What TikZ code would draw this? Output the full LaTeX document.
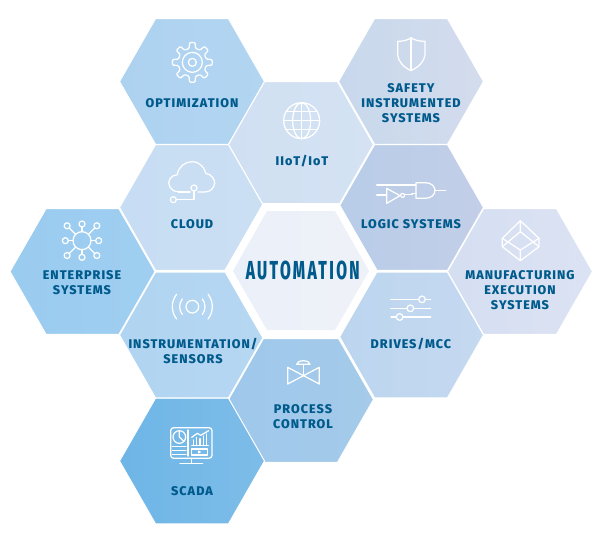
\documentclass[tikz,border=0pt]{standalone}
\usepackage{fontspec}
\newfontfamily\lab[LetterSpace=8,UprightFont=*,BoldFont=* ExtraBold]{Fira Sans}
\newfontfamily\tit[LetterSpace=9,FakeStretch=0.6,UprightFont=*,BoldFont=* ExtraBold]{Fira Sans}
\definecolor{ink}{HTML}{005B8C}
\newcommand{\hexcell}[5]{\shadedraw[hexcellstyle,left color=#4,right color=#5,shift={(#2,#3)}] (-72.5,0)--(-36.5,-62.8)--(36.5,-62.8)--(72.5,0)--(36.5,62.8)--(-36.5,62.8)--cycle;}
\tikzset{
  hexcellstyle/.style={draw=white,line width=1pt,line join=miter},
  lbl/.style={font=\lab\bfseries\fontsize{12.6}{14.8}\selectfont,text=ink,align=center,inner sep=0pt},
  ico/.style={draw=white,line width=1.25pt,line join=round,line cap=round,fill=none},
  zoomat/.style 2 args={shift={(#1,#2)},x=.33333pt,y=-.33333pt}
}
\begin{document}
\begin{tikzpicture}[x=1pt,y=-1pt]
\useasboundingbox (0,0) rectangle (600,533);
\definecolor{c1a}{HTML}{ADD2F0}\definecolor{c1b}{HTML}{B2D5F1}
\definecolor{c2a}{HTML}{D0E0F2}\definecolor{c2b}{HTML}{D4E2F3}
\definecolor{c3a}{HTML}{C8D8EC}\definecolor{c3b}{HTML}{D3DCED}
\definecolor{c4a}{HTML}{B8CDE8}\definecolor{c4b}{HTML}{C3CEE8}
\definecolor{c5a}{HTML}{D5DFF2}\definecolor{c5b}{HTML}{DBE2F3}
\definecolor{c6a}{HTML}{BCD5EF}\definecolor{c6b}{HTML}{C5D9F0}
\definecolor{c7a}{HTML}{9EC8EB}\definecolor{c7b}{HTML}{A5CAEA}
\definecolor{c8a}{HTML}{6EB6E7}\definecolor{c8b}{HTML}{7DBCE8}
\definecolor{c9a}{HTML}{B0D4F1}\definecolor{c9b}{HTML}{B6D7F2}
\definecolor{c10a}{HTML}{9ACCF0}\definecolor{c10b}{HTML}{9FCEF0}
\definecolor{c11a}{HTML}{C7DDF3}\definecolor{c11b}{HTML}{CBDFF3}
\definecolor{c12a}{HTML}{EAF0F9}\definecolor{c12b}{HTML}{EFF1F8}
\hexcell{opt}{192}{81.5}{c1a}{c1b}
\hexcell{iot}{301}{144.5}{c2a}{c2b}
\hexcell{saf}{411}{81.5}{c3a}{c3b}
\hexcell{log}{411}{207.5}{c4a}{c4b}
\hexcell{mes}{520}{271.5}{c5a}{c5b}
\hexcell{drv}{411}{335}{c6a}{c6b}
\hexcell{prc}{301}{399.5}{c7a}{c7b}
\hexcell{sca}{192}{461}{c8a}{c8b}
\hexcell{ins}{192}{335}{c9a}{c9b}
\hexcell{ent}{82.5}{271.5}{c10a}{c10b}
\hexcell{cld}{192}{207.5}{c11a}{c11b}
% centre
\fill[white] (224,271)--(263,203)--(339,203)--(378,271)--(339,339)--(263,339)--cycle;
\shade[left color=c12a,right color=c12b] (233,271)--(267,211)--(335,211)--(369,271)--(335,330)--(267,330)--cycle;
% gear
\begin{scope}[zoomat={110}{10}]
 \begin{scope}[shift={(247,157)}]
 \draw[ico,rounded corners=1pt] (-13:43) \foreach \a in {0,45,...,315}{ -- (\a-13:43) -- (\a-8:60) -- (\a+8:60) -- (\a+13:43)} -- cycle;
 \draw[ico] (0,0) circle (30) (0,0) circle (12);
 \end{scope}
 % globe
 \begin{scope}[shift={(575,332)}]
 \draw[ico] (0,0) circle (54);
 \draw[ico] (0,0) ellipse (27 and 54);
 \draw[ico] (0,-54)--(0,54) (-54,0)--(54,0) (-47,-27)--(47,-27) (-47,27)--(47,27);
 \end{scope}
 % cloud
 \draw[ico] (205,545) .. controls (180,545) and (172,520) .. (178,510)
   .. controls (185,497) and (195,495) .. (202,494)
   .. controls (205,470) and (225,455) .. (247,455)
   .. controls (270,455) and (285,475) .. (287,490)
   .. controls (305,492) and (315,510) .. (314,520)
   .. controls (312,535) and (300,546) .. (285,546) -- (264,546);
 \draw[ico] (252,534) circle (9);
 \draw[ico] (190,569) circle (9);
 \draw[ico] (252,543) -- (252,569) -- (199,569);
 \draw[ico] (240,546) -- (205,546);
\end{scope}
% shield
\begin{scope}[zoomat={330}{10}]
 \draw[ico] (203,94) .. controls (220,94) and (235,90) .. (243,83) .. controls (251,90) and (268,94) .. (285,94) -- (285,135) .. controls (283,155) and (265,172) .. (243,182) .. controls (221,172) and (205,155) .. (203,135) -- cycle;
 \draw[ico] (243,83) -- (243,182);
\end{scope}
\begin{scope}[zoomat={330}{170}]
 % logic
 \draw[ico] (140,45)--(258,45) (140,75)--(170,75) (315,61)--(347,61);
 \draw[ico] (170,55)--(210,77)--(170,100)--cycle;
 \draw[ico] (218,76) circle (6);
 \draw[ico] (224,73)--(246,73)--(246,70)--(258,70);
 \draw[ico] (258,38)--(285,38) .. controls (305,38) and (315,50) .. (315,61) .. controls (315,73) and (305,85) .. (285,85) -- (258,85) -- cycle;
 % cube
 \draw[ico] (571,152)--(627,205)--(627,230)--(571,272)--(517,230)--(517,205)--cycle;
 \draw[ico] (571,152)--(571,185) (571,185)--(517,230) (571,185)--(627,230) (517,205)--(571,240) (627,205)--(571,240) (571,240)--(571,272);
 % sliders
 \draw[ico] (183,388)--(266,388) (286,388)--(302,388) (183,415)--(231,415) (251,415)--(302,415) (183,441)--(199,441) (219,441)--(302,441);
 \draw[ico] (276,388) circle (10) (241,415) circle (10) (209,441) circle (10);
\end{scope}
\begin{scope}[zoomat={0}{200}]
 % network
 \begin{scope}[shift={(246,122)}]
 \draw[ico] (0,0) circle (27);
 \foreach \a/\r in {0/50,45/63,90/50,135/63,180/50,225/63,270/50,315/63}{
   \draw[ico] (\a:27)--(\a:\r-9);
   \draw[ico] (\a:\r) circle (9);
 }
 \end{scope}
 % sensor
 \begin{scope}[shift={(577,320)}]
 \draw[ico] (0,0) circle (19);
 \foreach \r in {38,60}{
   \draw[ico] (-38:\r) arc (-38:38:\r);
   \draw[ico] (218:\r) arc (218:142:\r);
 }
 \end{scope}
\end{scope}
\begin{scope}[zoomat={110}{330}]
 % valve
 \draw[ico] (533,112)--(628,162)--(628,112)--(533,162)--cycle;
 \draw[ico] (580,137)--(580,103);
 \draw[ico] (560,103) .. controls (562,88) and (598,88) .. (600,103) -- cycle;
 % scada
 \draw[ico,rounded corners=3pt] (182,293) rectangle (306,385);
 \draw[ico] (245,385)--(245,400) (210,401)--(278,401);
 \draw[ico] (234,300)--(234,378);
 \draw[ico] (208,321) circle (19);
 \draw[ico] (208,321)--(208,302) (208,321)--(222,334);
 \draw[ico] (187,350)--(228,350) (187,362)--(228,362) (187,374)--(228,374);
 \draw[ico] (245,346)--(295,346);
 \foreach \x/\t in {250/330,260/322,270/326,280/318,290/312}{ \draw[ico] (\x,346)--(\x,\t); }
 \draw[ico] (245,322)--(262,310)--(272,316)--(296,302);
 \draw[ico] (245,357) rectangle (293,375);
 \fill[white] (264,361)--(274,366)--(264,371)--cycle;
\end{scope}
% labels
\node[lbl] (toptim) at (192,102.7) {OPTIMIZATION};
\node[lbl] (tiot) at (302,161) {IIoT/IoT};
\node[lbl] (tsafe) at (411,103) {SAFETY\\INSTRUMENTED\\SYSTEMS};
\node[lbl] (tlogic) at (411,223.7) {LOGIC SYSTEMS};
\node[lbl] (tmes) at (520,290) {MANUFACTURING\\EXECUTION\\SYSTEMS};
\node[lbl] (tdrv) at (411,343.7) {DRIVES/MCC};
\node[lbl] (tent) at (82,282.5) {ENTERPRISE\\SYSTEMS};
\node[lbl] (tcld) at (192,223.7) {CLOUD};
\node[lbl] (tins) at (193,351) {INSTRUMENTATION/\\SENSORS};
\node[lbl] (tprc) at (303,416.5) {PROCESS\\CONTROL};
\node[lbl] (tsca) at (192,491) {SCADA};
\node[font=\tit\bfseries\fontsize{26}{28}\selectfont,text=ink,inner sep=0pt] (tauto) at (302.7,270) {AUTOMATION};
\end{tikzpicture}
\end{document}
